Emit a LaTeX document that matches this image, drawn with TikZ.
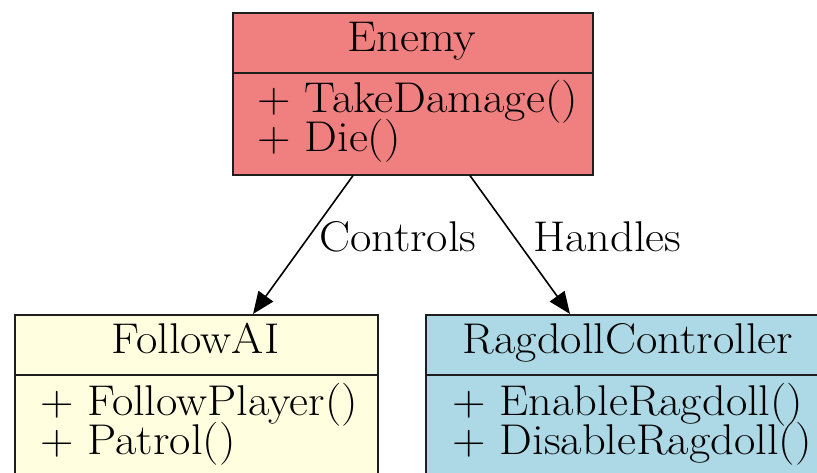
\documentclass[tikz,border=0pt]{standalone}
\usepackage{fontspec}
\usetikzlibrary{arrows.meta,calc}
\definecolor{enemyfill}{HTML}{F08080}
\definecolor{followfill}{HTML}{FFFFE0}
\definecolor{ragdollfill}{HTML}{ADD8E6}
\definecolor{linecol}{HTML}{1E1E1E}
% slightly widened lettering for the class texts
\newcommand{\widetext}[1]{\scalebox{1.08}[1]{#1}}
\begin{document}
\begin{tikzpicture}[x=1pt,y=-1pt,
  classbox/.style={draw=linecol, line width=1.6pt, inner sep=0pt, anchor=north west},
  divider/.style={draw=linecol, line width=1.6pt},
  txt/.style={inner sep=0pt, font=\fontsize{43}{50}\selectfont},
  edge/.style={draw=black, line width=1.6pt, -{Triangle[length=22pt,width=18pt]}}]
\useasboundingbox (0,0) rectangle (817,473);
\clip (0,0) rectangle (817,473);
\fill[white] (0,0) rectangle (817,473);

% Enemy class
\node[classbox, fill=enemyfill, minimum width=360pt, minimum height=162pt] (enemy) at (232,12) {};
\draw[divider] (enemy.west |- 0,73) -- (enemy.east |- 0,73);
\node[txt, anchor=base] (enemyname) at (412,52) {\widetext{Enemy}};
\node[txt, anchor=base west] (enemym1) at (257,113) {\widetext{+ TakeDamage()}};
\node[txt, anchor=base west] (enemym2) at (257,152) {\widetext{+ Die()}};

% FollowAI class
\node[classbox, fill=followfill, minimum width=363pt, minimum height=200pt] (follow) at (14,314) {};
\draw[divider] (follow.west |- 0,375) -- (follow.east |- 0,375);
\node[txt, anchor=base] (followname) at (195.5,353) {\widetext{FollowAI}};
\node[txt, anchor=base west] (followm1) at (40,415) {\widetext{+ FollowPlayer()}};
\node[txt, anchor=base west] (followm2) at (40,454) {\widetext{+ Patrol()}};

% RagdollController class
\node[classbox, fill=ragdollfill, minimum width=410pt, minimum height=200pt] (ragdoll) at (425,314) {};
\draw[divider] (ragdoll.west |- 0,375) -- (ragdoll.east |- 0,375);
\node[txt, anchor=base] (ragdollname) at (628,353) {\widetext{RagdollController}};
\node[txt, anchor=base west] (ragdollm1) at (452,415) {\widetext{+ EnableRagdoll()}};
\node[txt, anchor=base west] (ragdollm2) at (452,454) {\widetext{+ DisableRagdoll()}};

% Associations
\draw[edge] ($(enemy.south west)+(121,0)$) -- ($(follow.north west)+(239,0)$);
\draw[edge] ($(enemy.south west)+(238,0)$) -- ($(ragdoll.north west)+(145,0)$);
\node[txt, anchor=base west] (controls) at (319,252) {\widetext{Controls}};
\node[txt, anchor=base west] (handles) at (533,252) {\widetext{Handles}};
\end{tikzpicture}
\end{document}
